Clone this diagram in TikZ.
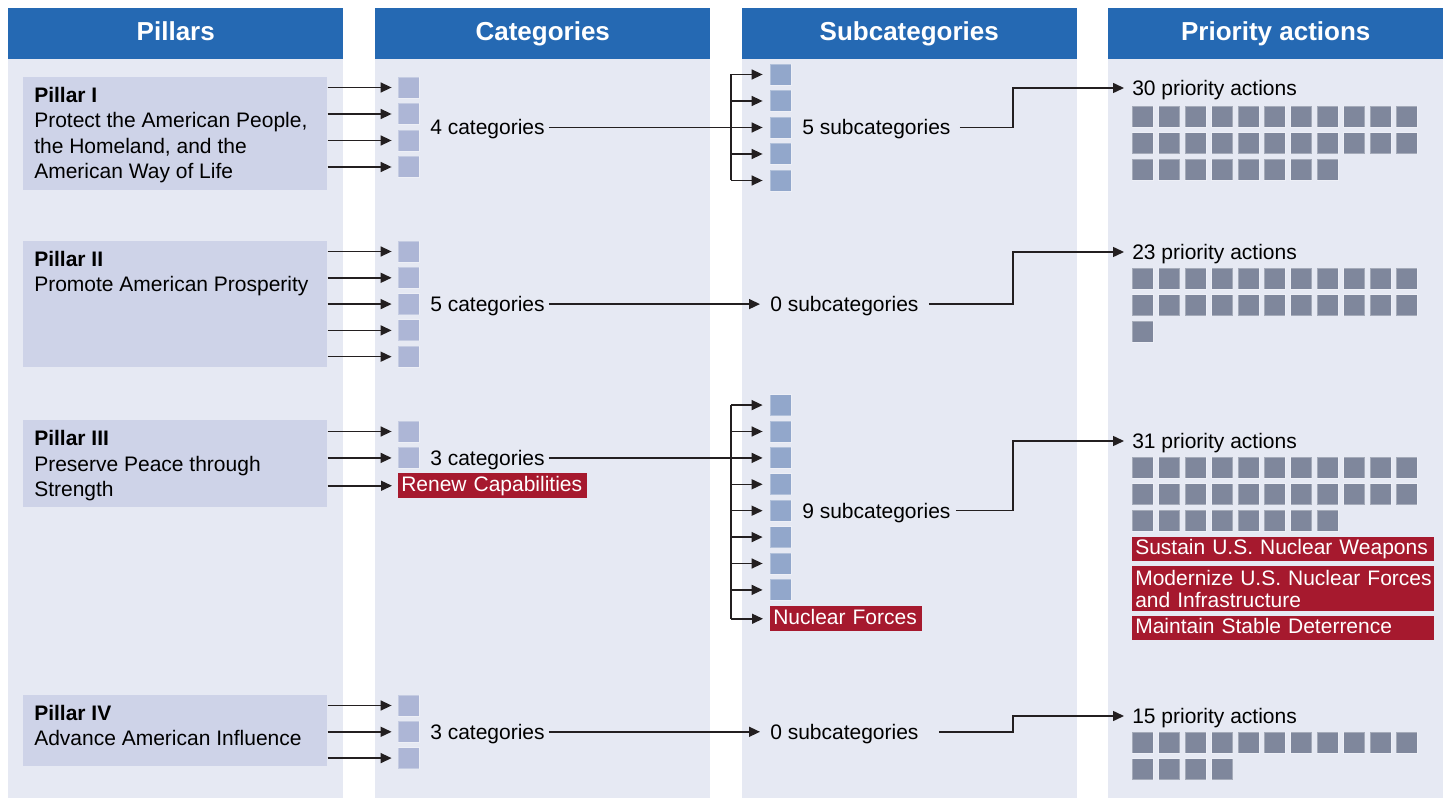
\documentclass[tikz,border=0pt]{standalone}
\usepackage{fontspec}
\setmainfont{Liberation Sans}
\usetikzlibrary{arrows.meta}
\newdimen\pxu \pxu=0.75pt
\newcommand{\fsn}{\fontsize{15.75pt}{18.75pt}\selectfont}
\newcommand{\fsr}{\fontsize{15.75pt}{16.2pt}\selectfont}
\newcommand{\fsh}{\fontsize{19.5pt}{22pt}\selectfont\bfseries}
\definecolor{hdrc}{RGB}{37,105,179}
\definecolor{colbg}{RGB}{230,233,243}
\definecolor{pboxc}{RGB}{206,211,232}
\definecolor{catc}{RGB}{173,182,214}
\definecolor{subc}{RGB}{146,167,203}
\definecolor{prc}{RGB}{127,135,156}
\definecolor{redc}{RGB}{166,25,46}
\definecolor{lnc}{RGB}{35,31,32}
\begin{document}
\begin{tikzpicture}[x=0.75pt,y=-0.75pt,
  hdrbox/.style={fill=hdrc, inner sep=0, minimum width=335\pxu, minimum height=51\pxu, anchor=north west, text=white, font=\fsh, text height=10.5pt, text depth=0pt},
  colbody/.style={fill=colbg, inner sep=0, minimum width=335\pxu, minimum height=739\pxu, anchor=north west},
  pbox/.style={fill=pboxc, inner sep=0, minimum width=304\pxu, anchor=north west},
  ptxt/.style={font=\fsn, inner sep=0, anchor=base west},
  txt/.style={font=\fsn, inner sep=0, anchor=west, text height=11.25pt, text depth=0pt},
  sqbase/.style={inner sep=0, minimum size=21\pxu, draw=white, draw opacity=0.3, line width=0.6pt},
  catsq/.style={sqbase, fill=catc},
  subsq/.style={sqbase, fill=subc},
  prsq/.style={sqbase, fill=prc, anchor=north west},
  redbox/.style={fill=redc, text=white, inner xsep=3\pxu, inner ysep=0, anchor=north west, align=left, text width=296\pxu},
  redone/.style={redbox, font=\fsn, text height=11.5pt, text depth=3.25pt},
  line/.style={draw=lnc, line width=1.1pt},
  arr/.style={line, -{Triangle[length=8.25pt,width=7.5pt]}, shorten >=5\pxu}
]
\useasboundingbox (0,0) rectangle (1449,798);

% columns
\foreach \cx/\nm/\ttl in {8/c1/Pillars, 375/c2/Categories, 741.5/c3/Subcategories, 1108/c4/Priority actions} {
  \node[colbody] (body\nm) at (\cx,59) {};
  \node[hdrbox] (hdr\nm) at (\cx,8) {\ttl};
}

% pillar boxes
\node[pbox, minimum height=113\pxu] (p1) at (23,77) {};
\node[ptxt, font=\fsn\bfseries] (p1a) at (34,102.3) {Pillar I};
\node[ptxt] (p1b) at (34,127.8) {Protect the American People,};
\node[ptxt] (p1c) at (34,153.3) {the Homeland, and the};
\node[ptxt] (p1d) at (34,178.8) {American Way of Life};

\node[pbox, minimum height=126\pxu] (p2) at (23,241) {};
\node[ptxt, font=\fsn\bfseries] (p2a) at (34,266.3) {Pillar II};
\node[ptxt] (p2b) at (34,291.8) {Promote American Prosperity};

\node[pbox, minimum height=87\pxu] (p3) at (23,420) {};
\node[ptxt, font=\fsn\bfseries] (p3a) at (34,445.5) {Pillar III};
\node[ptxt] (p3b) at (34,471) {Preserve Peace through};
\node[ptxt] (p3c) at (34,496.5) {Strength};

\node[pbox, minimum height=71\pxu] (p4) at (23,695) {};
\node[ptxt, font=\fsn\bfseries] (p4a) at (34,720.3) {Pillar IV};
\node[ptxt] (p4b) at (34,745.8) {Advance American Influence};

% category squares and arrows
\foreach \k in {0,...,3} {
  \node[catsq] (ca1-\k) at (408.5,{87.5+\k*26.5}) {};
  \draw[arr, shorten >=6\pxu] (p1.east |- ca1-\k) -- (ca1-\k.west);
}
\foreach \k in {0,...,4} {
  \node[catsq] (ca2-\k) at (408.5,{251.5+\k*26.3}) {};
  \draw[arr, shorten >=6\pxu] (p2.east |- ca2-\k) -- (ca2-\k.west);
}
\foreach \k in {0,1} {
  \node[catsq] (ca3-\k) at (408.5,{431.5+\k*26.4}) {};
  \draw[arr, shorten >=6\pxu] (p3.east |- ca3-\k) -- (ca3-\k.west);
}
\node[redone, text width=183\pxu, minimum height=25\pxu] (rc) at (398,473) {Renew Capabilities};
\draw[arr, shorten >=6\pxu] (p3.east |- rc.west) -- (rc.west);
\foreach \k in {0,...,2} {
  \node[catsq] (ca4-\k) at (408.5,{705.5+\k*26.3}) {};
  \draw[arr, shorten >=6\pxu] (p4.east |- ca4-\k) -- (ca4-\k.west);
}

% category labels
\node[txt] (cl1) at (430,127.5) {4 categories};
\node[txt] (cl2) at (430,304.1) {5 categories};
\node[txt] (cl3) at (430,457.9) {3 categories};
\node[txt] (cl4) at (430,731.8) {3 categories};

% subcategories pillar I
\coordinate (t1) at (731,0);
\foreach \k in {0,...,4} {
  \node[subsq] (s1-\k) at (780.5,{127.5+(\k-2)*26.5}) {};
}
\draw[line] (t1 |- s1-0) -- (t1 |- s1-4);
\foreach \k in {0,1,3,4} {
  \draw[arr, shorten >=7\pxu] (t1 |- s1-\k) -- (s1-\k.west);
}
\draw[arr, shorten <=4\pxu, shorten >=7\pxu] (cl1.east) -- (s1-2.west);
\node[txt] (sl1) at (802,127.5) {5 subcategories};

% subcategories pillar II
\node[txt] (sl2) at (770,304.1) {0 subcategories};
\draw[arr, shorten <=4\pxu, shorten >=10\pxu] (cl2.east) -- (sl2.west);

% subcategories pillar III
\coordinate (t3) at (731,0);
\foreach \k in {0,...,7} {
  \node[subsq] (s3-\k) at (780.5,{457.9+(\k-2)*26.4}) {};
}
\node[redone, text width=146\pxu, minimum height=25\pxu] (nf) at (770,606) {Nuclear Forces};
\draw[line] (t3 |- s3-0) -- (t3 |- nf.west);
\foreach \k in {0,1,3,4,5,6,7} {
  \draw[arr, shorten >=7\pxu] (t3 |- s3-\k) -- (s3-\k.west);
}
\draw[arr, shorten >=7\pxu] (t3 |- nf.west) -- (nf.west);
\draw[arr, shorten <=4\pxu, shorten >=7\pxu] (cl3.east) -- (s3-2.west);
\node[txt] (sl3) at (802,510.7) {9 subcategories};

% subcategories pillar IV
\node[txt] (sl4) at (770,731.8) {0 subcategories};
\draw[arr, shorten <=4\pxu, shorten >=10\pxu] (cl4.east) -- (sl4.west);

% priority labels
\node[txt] (pl1) at (1132,88) {30 priority actions};
\node[txt] (pl2) at (1132,252) {23 priority actions};
\node[txt] (pl3) at (1132,441) {31 priority actions};
\node[txt] (pl4) at (1132,716) {15 priority actions};

\coordinate (bx) at (1013,0);
\draw[arr, shorten <=9\pxu, shorten >=8\pxu] (sl1.east) -- (sl1.east -| bx) |- (pl1.west);
\draw[arr, shorten <=10\pxu, shorten >=8\pxu] (sl2.east) -- (sl2.east -| bx) |- (pl2.west);
\draw[arr, shorten <=5\pxu, shorten >=8\pxu] (sl3.east) -- (sl3.east -| bx) |- (pl3.west);
\draw[arr, shorten <=20\pxu, shorten >=8\pxu] (sl4.east) -- (sl4.east -| bx) |- (pl4.west);

% priority grids
\foreach \g/\cnt/\top in {1/29/106, 2/22/268, 3/29/457, 4/14/732} {
  \foreach \n in {0,...,\cnt} {
    \pgfmathtruncatemacro\col{mod(\n,11)}
    \pgfmathtruncatemacro\row{floor(\n/11)}
    \node[prsq] (g\g-\n) at ({1132+\col*26.4},{\top+\row*26.3}) {};
  }
}

% red priority boxes
\node[redone, minimum height=24\pxu] (r1) at (1132,537) {Sustain U.S. Nuclear Weapons};
\node[redbox, font=\fsr, minimum height=45\pxu] (r2) at (1132,566) {\mbox{Modernize U.S. Nuclear Forces}\\\mbox{and Infrastructure}};
\node[redone, minimum height=24\pxu] (r3) at (1132,616) {Maintain Stable Deterrence};
\end{tikzpicture}
\end{document}
